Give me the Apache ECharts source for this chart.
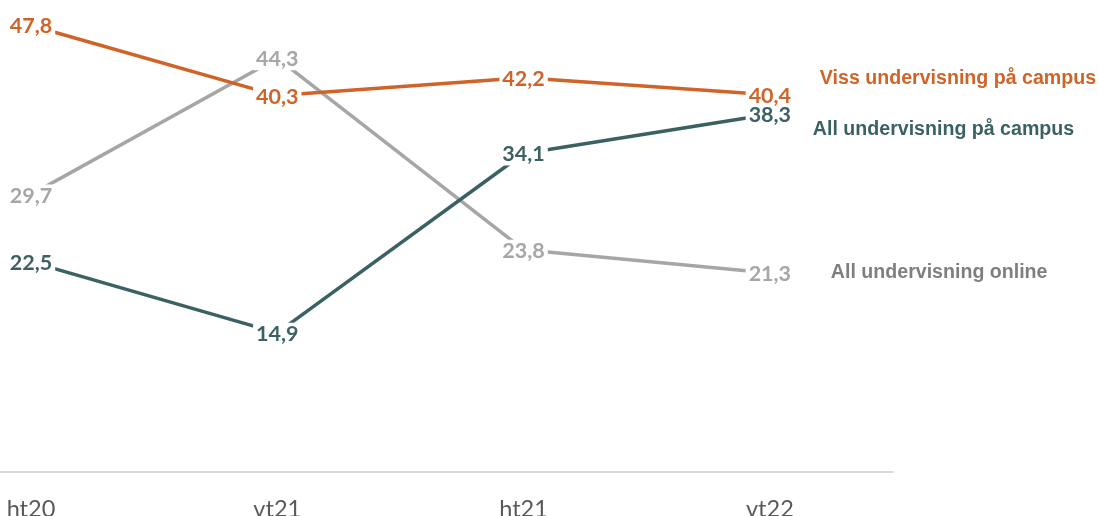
<!DOCTYPE html>
<html>
<head>
<meta charset="utf-8">
<script src="https://cdn.jsdelivr.net/npm/echarts@6/dist/echarts.min.js"></script>
<style>
html,body{margin:0;padding:0;background:#fff;}
#chart{width:1099px;height:516px;}
</style>
</head>
<body>
<div id="chart"></div>
<script>
const categories = ['ht20', 'vt21', 'ht21', 'vt22'];
const seriesNames = ['Viss undervisning på campus', 'All undervisning på campus', 'All undervisning online'];
const vissCampus = [47.8, 40.3, 42.2, 40.4];
const allCampus = [22.5, 14.9, 34.1, 38.3];
const allOnline = [29.7, 44.3, 23.8, 21.3];

const lineColors = ['#D06328', '#3B6163', '#A6A6A6'];
const nameColors = ['#D06328', '#3B6163', '#7F7F7F'];
const nameOffsets = [[42, -16], [35, 15], [53, 0]];
const seriesZ = [4, 3, 2];
const allValues = [vissCampus, allCampus, allOnline];

const chart = echarts.init(document.getElementById('chart'));

const series = allValues.map((vals, s) => ({
  name: seriesNames[s],
  type: 'line',
  z: seriesZ[s],
  data: vals.map((v, i) => [i, v]),
  symbol: 'circle',
  symbolSize: 1,
  showSymbol: true,
  itemStyle: { color: lineColors[s] },
  lineStyle: { color: lineColors[s], width: 3.5 },
  label: {
    show: true,
    position: 'inside',
    offset: [0, 1],
    formatter: p => String(p.value[1]).replace('.', ','),
    color: lineColors[s],
    fontFamily: 'Lato',
    fontWeight: 'bold',
    fontSize: 21.5,
    backgroundColor: '#ffffff',
    padding: [0, 3]
  },
  endLabel: {
    show: true,
    formatter: p => p.seriesName,
    color: nameColors[s],
    fontFamily: 'Liberation Sans',
    fontWeight: 'bold',
    fontSize: 19.6,
    offset: nameOffsets[s]
  },
  emphasis: { disabled: true }
}));

chart.setOption({
  animation: false,
  backgroundColor: '#ffffff',
  grid: { left: 0, right: 206, top: 5, bottom: 44, containLabel: false, outerBoundsMode: 'none' },
  xAxis: {
    type: 'value',
    min: -0.1258,
    max: 3.5,
    axisLine: { show: true, lineStyle: { color: '#D9D9D9', width: 2 } },
    axisTick: { show: false },
    splitLine: { show: false },
    axisLabel: {
      customValues: [0, 1, 2, 3],
      formatter: v => categories[Math.round(v)],
      color: '#595959',
      fontFamily: 'Lato',
      fontSize: 23.5,
      margin: 25
    }
  },
  yAxis: {
    type: 'value',
    min: 0,
    max: 50,
    show: false,
    splitLine: { show: false }
  },
  series: series
});
</script>
</body>
</html>
